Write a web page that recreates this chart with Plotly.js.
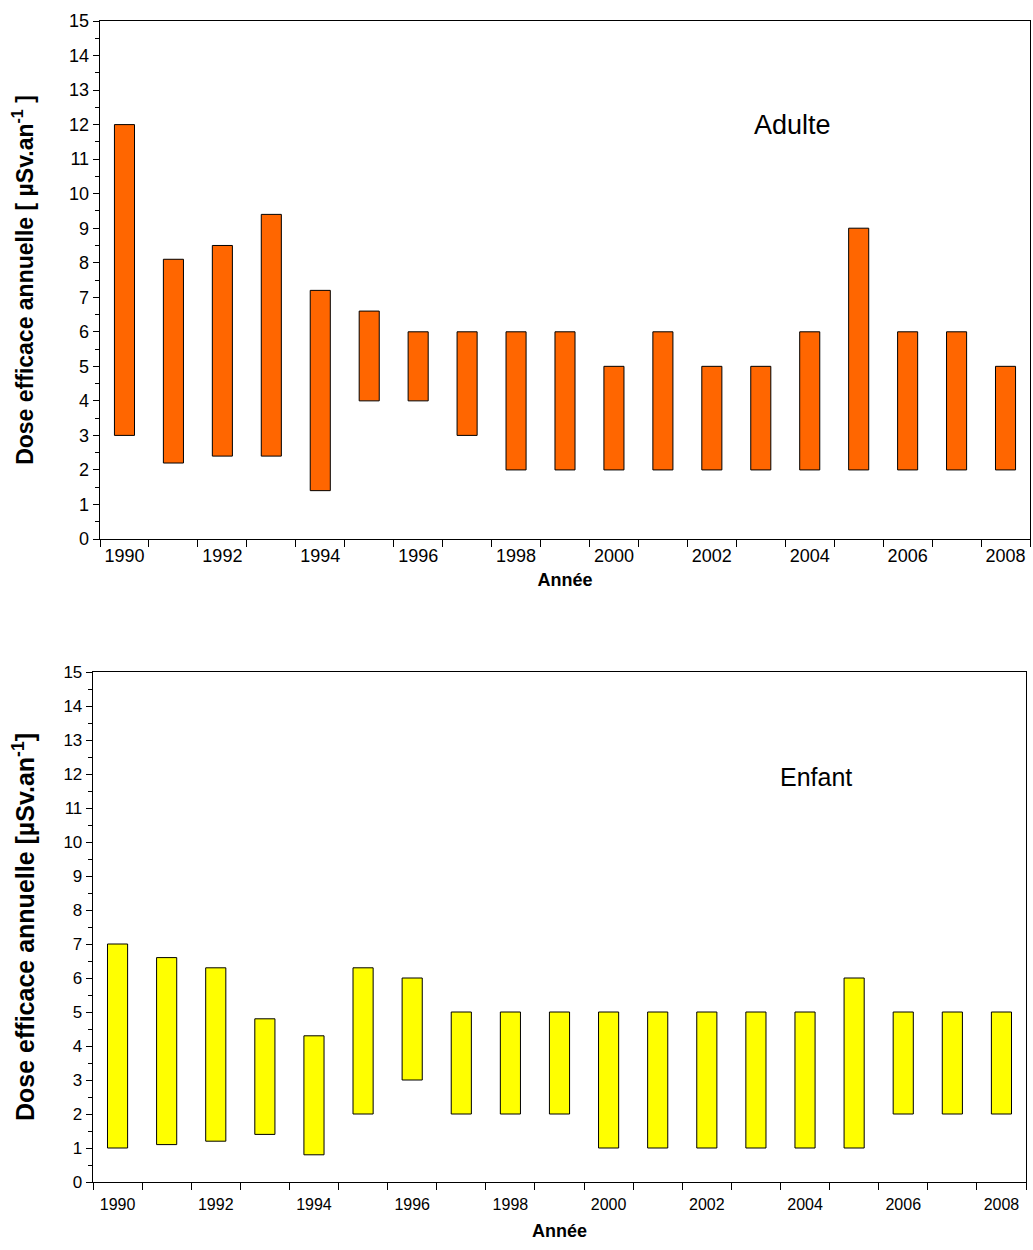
<!DOCTYPE html>
<html>
<head>
<meta charset="utf-8">
<script src="https://cdn.plot.ly/plotly-3.0.1.min.js"></script>
<style>html,body{margin:0;padding:0;background:#fff;}</style>
</head>
<body>
<div id="chart" style="width:1033px;height:1250px;"></div>
<script>
const years = ["1990","1991","1992","1993","1994","1995","1996","1997","1998","1999","2000","2001","2002","2003","2004","2005","2006","2007","2008"];
const adultLow  = [3, 2.2, 2.4, 2.4, 1.4, 4, 4, 3, 2, 2, 2, 2, 2, 2, 2, 2, 2, 2, 2];
const adultHigh = [12, 8.1, 8.5, 9.4, 7.2, 6.6, 6, 6, 6, 6, 5, 6, 5, 5, 6, 9, 6, 6, 5];
const childLow  = [1, 1.1, 1.2, 1.4, 0.8, 2, 3, 2, 2, 2, 1, 1, 1, 1, 1, 1, 2, 2, 2];
const childHigh = [7, 6.6, 6.3, 4.8, 4.3, 6.3, 6, 5, 5, 5, 5, 5, 5, 5, 5, 6, 5, 5, 5];
const yTicks = [0,1,2,3,4,5,6,7,8,9,10,11,12,13,14,15];

const FONT = "Liberation Sans, Arial, sans-serif";

const traces = [
  {
    type: "bar", x: years, base: adultLow,
    y: adultHigh.map((h, i) => h - adultLow[i]),
    xaxis: "x", yaxis: "y", width: 0.41,
    marker: {color: "#FF6600", line: {color: "#000", width: 1}},
    showlegend: false, hoverinfo: "skip"
  },
  {
    type: "bar", x: years, base: childLow,
    y: childHigh.map((h, i) => h - childLow[i]),
    xaxis: "x2", yaxis: "y2", width: 0.41,
    marker: {color: "#FFFF00", line: {color: "#000", width: 1}},
    showlegend: false, hoverinfo: "skip"
  }
];

function xax(domain, anchor, fs, labelGap, standoff) {
  return {
    domain: domain, anchor: anchor, type: "category",
    categoryorder: "array", categoryarray: years,
    range: [-0.5, years.length - 0.5],
    tickson: "boundaries", ticks: "outside", ticklen: 7, tickcolor: "#000", tickwidth: 1,
    ticklabelstep: 2, tickangle: 0, ticklabelstandoff: labelGap,
    showline: true, linecolor: "#000", linewidth: 1.3, mirror: true,
    showgrid: false, zeroline: false,
    tickfont: {family: FONT, size: fs, color: "#000"},
    title: {text: "Année", font: {family: FONT, size: 18, color: "#000", weight: "bold"}, standoff: standoff}
  };
}
function yax(domain, anchor, fs, title, tsize, standoff) {
  return {
    domain: domain, anchor: anchor, range: [0, 15],
    tickmode: "array", tickvals: yTicks,
    ticks: "outside", ticklen: 6, tickcolor: "#000", tickwidth: 1,
    minor: {dtick: 0.5, ticks: "outside", ticklen: 4, tickcolor: "#000", showgrid: false},
    showline: true, linecolor: "#000", linewidth: 1.3, mirror: true,
    showgrid: false, zeroline: false,
    tickfont: {family: FONT, size: fs, color: "#000"},
    title: {text: title, font: {family: FONT, size: tsize, color: "#000", weight: "bold"}, standoff: standoff}
  };
}

const layout = {
  width: 1033, height: 1250,
  margin: {l: 0, r: 0, t: 0, b: 0},
  paper_bgcolor: "#fff", plot_bgcolor: "#fff",
  font: {family: FONT, color: "#000"},
  bargap: 0,
  xaxis: xax([100/1033, 1030/1033], "y", 18, 0, 8),
  yaxis: yax([1 - 539/1250, 1 - 21/1250], "x", 18, "Dose efficace annuelle [ µSv.an<sup>-1</sup> ]", 23, 29),
  xaxis2: xax([93/1033, 1026/1033], "y2", 16, 7, 13),
  yaxis2: yax([1 - 1182/1250, 1 - 672/1250], "x2", 17, "Dose efficace annuelle [µSv.an<sup>-1</sup>]", 25, 21),
  annotations: [
    {text: "Adulte", xref: "x domain", yref: "y", x: 0.745, y: 12, xanchor: "center", showarrow: false,
     font: {family: FONT, size: 27, color: "#000"}},
    {text: "Enfant", xref: "x2 domain", yref: "y2", x: 0.775, y: 11.9, xanchor: "center", showarrow: false,
     font: {family: FONT, size: 25, color: "#000"}}
  ]
};

Plotly.newPlot("chart", traces, layout, {staticPlot: true, displayModeBar: false});
</script>
</body>
</html>
